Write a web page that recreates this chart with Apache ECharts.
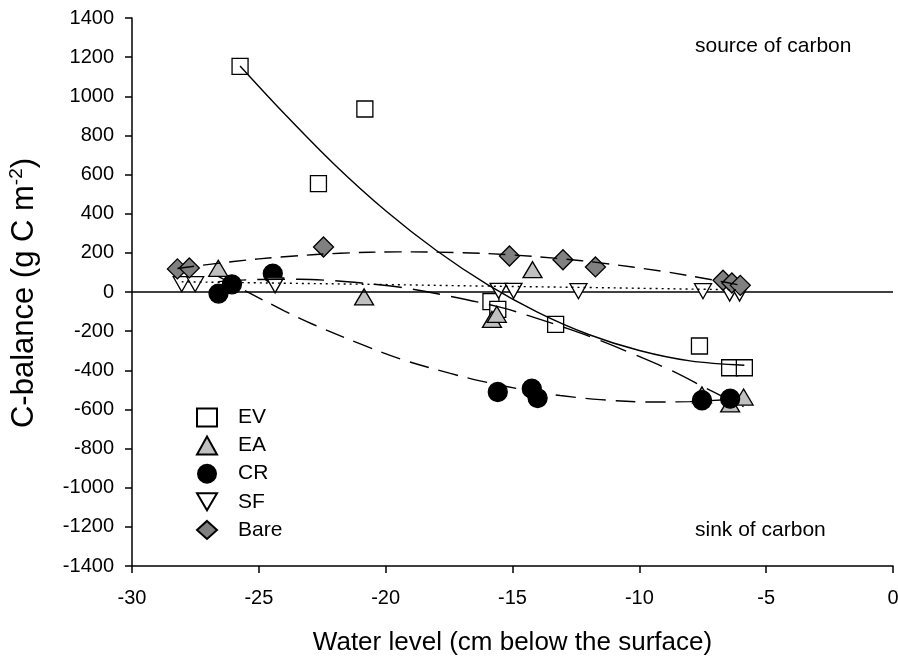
<!DOCTYPE html>
<html><head><meta charset="utf-8">
<script src="https://cdn.jsdelivr.net/npm/echarts@6/dist/echarts.min.js"></script>
<style>html,body{margin:0;padding:0;background:#fff}#c{width:898px;height:657px}</style>
</head><body><div id="c"></div>
<script>
// ---- observed points ----
const evX = [-25.74, -20.82, -22.65, -15.85, -15.58, -13.30, -7.63, -6.44, -5.86];
const evY = [1153, 935, 554, -49, -89, -165, -276, -387, -387];
const eaX = [-26.60, -20.85, -15.81, -15.62, -14.21, -7.53, -6.42, -5.89];
const eaY = [121, -25, -140, -114, 114, -526, -572, -537];
const crX = [-26.59, -26.06, -24.45, -15.58, -14.24, -14.01, -7.53, -6.42];
const crY = [-8, 39, 94, -511, -494, -542, -553, -545];
const sfX = [-28.04, -27.51, -24.36, -15.55, -14.96, -12.40, -7.49, -6.44, -6.05];
const sfY = [40, 40, 34, 6, 6, 4, 4, -8, -8];
const bareX = [-28.21, -27.74, -22.45, -15.12, -13.01, -11.73, -6.70, -6.35, -6.02];
const bareY = [118, 123, 230, 184, 165, 128, 60, 46, 34];
// ---- fitted curves ----
const evFitX = [-25.74, -24, -22, -20, -18, -16, -14, -12, -10, -8, -5.86];
const evFitY = [1155, 912, 649, 415, 212, 39, -104, -217, -299, -352, -374];
const eaFitX = [-26.6, -25.0, -23.4, -22.06, -20.94, -19.42, -17.45, -15.42, -14.37, -12.85, -11.74, -10.29, -8.71, -7.2, -5.89];
const eaFitY = [53, 64, 65, 58, 46, 24, -22, -80, -121, -186, -238, -314, -403, -503, -586];
const crFitX = [-26.6, -25.47, -24.0, -22.85, -21.0, -19.42, -17.45, -16.14, -14.5, -13.12, -11.54, -9.57, -8.0, -6.42];
const crFitY = [80, 2, -96, -166, -265, -342, -416, -458, -501, -529, -550, -562, -560, -549];
const sfFitX = [-28.04, -24, -20, -16, -12, -8, -6.05];
const sfFitY = [52, 45, 38, 30, 23, 15, 11];
const bareFitX = [-28.21, -26, -24, -21.8, -19.5, -17, -15.1, -13, -11.54, -9, -7.07, -6.02];
const bareFitY = [120, 156, 180, 198, 205, 201, 190, 169, 149, 104, 61, 35];
// ---- axes ----
const xMin = -30, xMax = 0, xStep = 5;
const yMin = -1400, yMax = 1400, yStep = 200;
const seriesNames = ['EV', 'EA', 'CR', 'SF', 'Bare'];

const FONT = 'Liberation Sans, Arial, Helvetica, sans-serif';
const pts = (xs, ys) => xs.map((x, i) => [x, ys[i]]);

const chart = echarts.init(document.getElementById('c'), null, {renderer: 'canvas'});

function scatter(name, xs, ys, symbol, size, fill, z, rot) {
  return {
    name, type: 'scatter', data: pts(xs, ys), symbol, symbolSize: size,
    symbolRotate: rot || 0, z, silent: true,
    itemStyle: {color: fill, borderColor: '#000', borderWidth: 1.3, opacity: 1},
    emphasis: {disabled: true}
  };
}
function fit(name, xs, ys, dash) {
  return {
    name, type: 'line', data: pts(xs, ys), smooth: 0.35, symbol: 'none', showSymbol: false,
    z: 10, silent: true,
    lineStyle: {color: '#000', width: 1.4, type: dash},
    emphasis: {disabled: true}
  };
}

const axisLine = {show: true, onZero: false, lineStyle: {color: '#000', width: 1.5}};
const axisTick = {show: true, inside: false, length: 7, lineStyle: {color: '#000', width: 1.5}};

chart.setOption({
  animation: false,
  backgroundColor: '#fff',
  grid: {left: 132, right: 5, top: 18, bottom: 91, containLabel: false, outerBoundsMode: 'none'},
  xAxis: {
    type: 'value', min: xMin, max: xMax, interval: xStep,
    axisLine, axisTick, splitLine: {show: false},
    axisLabel: {fontSize: 20, fontFamily: FONT, color: '#000', margin: 22, formatter: v => String(v)},
    name: 'Water level (cm below the surface)', nameLocation: 'middle', nameGap: 64,
    nameTextStyle: {fontSize: 26, fontFamily: FONT, color: '#000'}
  },
  yAxis: {
    type: 'value', min: yMin, max: yMax, interval: yStep,
    axisLine, axisTick, splitLine: {show: false},
    axisLabel: {fontSize: 20, fontFamily: FONT, color: '#000', margin: 18, formatter: v => String(v)}
  },
  legend: {
    data: [
      {name: 'EV'}, {name: 'EA'}, {name: 'CR'},
      {name: 'SF', icon: 'path://M0,0L20,0L10,17Z'},
      {name: 'Bare'}
    ],
    orient: 'vertical', left: 191, top: 402,
    itemWidth: 20, itemHeight: 18, itemGap: 7.1, selectedMode: false,
    formatter: '{t|{name}}',
    textStyle: {color: '#000', fontFamily: FONT, fontSize: 21,
      rich: {t: {padding: [0, 0, 0, 16], fontSize: 21, fontFamily: FONT, color: '#000', lineHeight: 18}}}
  },
  graphic: [
    {type: 'text', x: 24, y: 293, rotation: Math.PI / 2, silent: true,
      style: {text: '{a|C-balance (g C m}{b|-2}{a|)}', align: 'center', textAlign: 'center',
        verticalAlign: 'middle', textVerticalAlign: 'middle',
        rich: {a: {fontSize: 31, fontFamily: FONT, fill: '#000', lineHeight: 34},
               b: {fontSize: 19, fontFamily: FONT, fill: '#000', verticalAlign: 'top'}}}},
    {type: 'text', x: 695, y: 46, silent: true,
      style: {text: 'source of carbon', font: '21px ' + FONT, fill: '#000', align: 'left', textAlign: 'left', verticalAlign: 'middle', textVerticalAlign: 'middle'}},
    {type: 'text', x: 695, y: 530, silent: true,
      style: {text: 'sink of carbon', font: '21px ' + FONT, fill: '#000', align: 'left', textAlign: 'left', verticalAlign: 'middle', textVerticalAlign: 'middle'}}
  ],
  series: [
    Object.assign(scatter('EV', evX, evY, 'rect', 16, '#ffffff', 3), {
      markLine: {silent: true, symbol: 'none', label: {show: false},
        lineStyle: {color: '#000', width: 1.5, type: 'solid'}, data: [{yAxis: 0}]}
    }),
    scatter('EA', eaX, eaY, 'triangle', [19, 16], '#c0c0c0', 4),
    scatter('CR', crX, crY, 'circle', 19, '#000000', 5),
    scatter('SF', sfX, sfY, 'triangle', [17, 15], '#ffffff', 6, 180),
    scatter('Bare', bareX, bareY, 'diamond', 20, '#808080', 7),
    fit('EV fit', evFitX, evFitY, 'solid'),
    fit('EA fit', eaFitX, eaFitY, [28, 11]),
    fit('CR fit', crFitX, crFitY, [20, 10]),
    fit('SF fit', sfFitX, sfFitY, [2, 4]),
    fit('Bare fit', bareFitX, bareFitY, [17, 9])
  ]
});
</script></body></html>
